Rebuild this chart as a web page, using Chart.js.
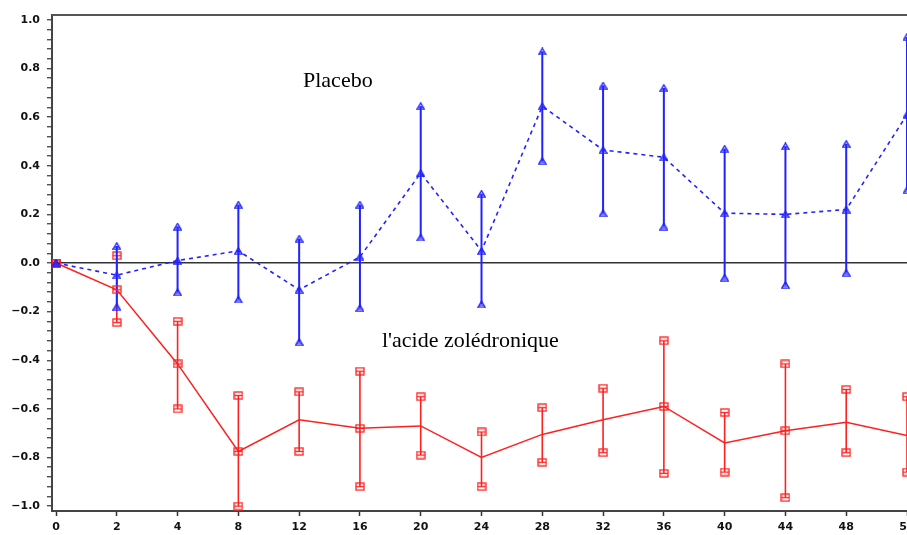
<!DOCTYPE html>
<html>
<head>
<meta charset="utf-8">
<script src="https://cdn.jsdelivr.net/npm/chart.js@4.4.0/dist/chart.umd.min.js"></script>
<style>
  html, body { margin: 0; padding: 0; background: #fff; overflow: hidden; }
  #wrap { width: 907px; height: 535px; position: relative; }
</style>
</head>
<body>
<div id="wrap"><canvas id="chart"></canvas></div>
<script>
var weeks = ["0", "2", "4", "8", "12", "16", "20", "24", "28", "32", "36", "40", "44", "48", "52"];

var placeboMean = [0, -0.05, 0.01, 0.05, -0.11, 0.025, 0.37, 0.05, 0.645, 0.465, 0.435, 0.205, 0.2, 0.22, 0.61];
var placeboHigh = [0, 0.07, 0.15, 0.24, 0.10, 0.24, 0.645, 0.285, 0.87, 0.73, 0.72, 0.47, 0.48, 0.49, 0.93];
var placeboLow = [0, -0.18, -0.12, -0.15, -0.325, -0.185, 0.105, -0.17, 0.42, 0.205, 0.15, -0.06, -0.09, -0.04, 0.30];

var zolMean = [0, -0.11, -0.415, -0.775, -0.645, -0.68, -0.67, -0.80, -0.705, -0.645, -0.59, -0.74, -0.69, -0.655, -0.71];
var zolHigh = [0, 0.03, -0.24, -0.545, -0.53, -0.445, -0.55, -0.695, -0.595, -0.515, -0.32, -0.615, -0.415, -0.52, -0.55];
var zolLow = [0, -0.245, -0.60, -1.0, -0.775, -0.92, -0.79, -0.92, -0.82, -0.78, -0.865, -0.86, -0.965, -0.78, -0.86];

// squares only show at some of the red means in the original
var zolMeanMarker = [1, 1, 1, 1, 0, 1, 0, 0, 0, 0, 1, 0, 1, 0, 0];

var BLUE = "#2222ff";
var RED = "#ff2020";

function triMarker(color) {
  var c = document.createElement("canvas");
  c.width = 9;
  c.height = 8;
  var g = c.getContext("2d");
  g.strokeStyle = color;
  g.lineWidth = 1.3;
  g.beginPath();
  g.moveTo(4.5, 0.8);
  g.lineTo(8.2, 7.2);
  g.lineTo(0.8, 7.2);
  g.closePath();
  g.stroke();
  g.beginPath();
  g.moveTo(2, 5);
  g.lineTo(7, 5);
  g.stroke();
  return c;
}

function squareMarker(color) {
  var c = document.createElement("canvas");
  c.width = 10;
  c.height = 9;
  var g = c.getContext("2d");
  g.strokeStyle = color;
  g.lineWidth = 1.3;
  g.strokeRect(1, 1, 8, 7);
  g.beginPath();
  g.moveTo(1, 4.5);
  g.lineTo(9, 4.5);
  g.stroke();
  return c;
}

var tri = triMarker(BLUE);
var sq = squareMarker(RED);

function meanPoints(arr) {
  return arr.map(function (v, i) {
    return { x: i, y: v };
  });
}

// one dataset per series: low -> high segments split by gaps
function errorPoints(lo, hi) {
  var pts = [];
  for (var i = 0; i < lo.length; i++) {
    pts.push({ x: i, y: lo[i] });
    pts.push({ x: i, y: hi[i] });
    pts.push({ x: i, y: null });
  }
  return pts;
}

function fmt(v) {
  var s = Math.abs(v) < 1e-9 ? "0.0" : v.toFixed(1);
  return s.replace("-", "\u2212");
}

var annotations = {
  id: "annotations",
  afterDraw: function (chart) {
    var ctx = chart.ctx;
    var a = chart.chartArea;
    ctx.save();
    ctx.strokeStyle = "#555";
    ctx.lineWidth = 2;
    ctx.beginPath();
    ctx.moveTo(a.left, a.top);
    ctx.lineTo(a.right, a.top);
    ctx.stroke();

    ctx.fillStyle = "#000";
    ctx.font = '22px "Liberation Serif"';
    ctx.textBaseline = "alphabetic";
    ctx.fillText("Placebo", 303, 87);
    ctx.fillText("l'acide zolédronique", 382, 347);
    ctx.restore();
  },
};

var chart = document.getElementById("chart");

var config = {
  type: "line",
  data: {
    datasets: [
      {
        label: "Placebo",
        data: meanPoints(placeboMean),
        borderColor: BLUE,
        borderWidth: 1.6,
        borderDash: [4, 4],
        pointStyle: tri,
        pointRadius: 4,
        tension: 0,
      },
      {
        label: "l'acide zolédronique",
        data: meanPoints(zolMean),
        borderColor: RED,
        borderWidth: 1.5,
        pointStyle: sq,
        pointRadius: zolMeanMarker.map(function (m) {
          return m ? 4 : 0;
        }),
        tension: 0,
      },
      {
        label: "Placebo IC",
        data: errorPoints(placeboLow, placeboHigh),
        borderColor: BLUE,
        borderWidth: 2,
        pointStyle: tri,
        pointRadius: 4,
        spanGaps: false,
      },
      {
        label: "zol IC",
        data: errorPoints(zolLow, zolHigh),
        borderColor: RED,
        borderWidth: 1.6,
        pointStyle: sq,
        pointRadius: 4,
        spanGaps: false,
      },
    ],
  },
  options: {
    animation: false,
    responsive: true,
    maintainAspectRatio: false,
    layout: { autoPadding: false, padding: { top: 15, left: 0, right: 0, bottom: 0 } },
    plugins: {
      legend: { display: false },
      tooltip: { enabled: false },
    },
    scales: {
      x: {
        type: "linear",
        min: -0.066,
        max: 14,
        afterBuildTicks: function (scale) {
          scale.ticks = weeks.map(function (w, i) {
            return { value: i };
          });
        },
        afterFit: function (scale) {
          scale.height = 24;
          scale.paddingLeft = 0;
          scale.paddingRight = 0;
        },
        ticks: {
          autoSkip: false,
          maxRotation: 0,
          padding: 5,
          color: "#111",
          font: { family: "DejaVu Sans", size: 11, weight: "bold" },
          callback: function (value) {
            return weeks[value];
          },
        },
        grid: {
          drawOnChartArea: false,
          tickLength: 5,
          tickColor: "#333",
          tickWidth: 1.5,
        },
        border: { color: "#444", width: 2 },
      },
      y: {
        type: "linear",
        min: -1.02,
        max: 1.02,
        afterBuildTicks: function (scale) {
          var t = [];
          for (var k = -25; k <= 25; k++) {
            t.push({ value: Math.round(k * 4) / 100 });
          }
          scale.ticks = t;
        },
        afterFit: function (scale) {
          scale.width = 52;
          scale.paddingTop = 0;
          scale.paddingBottom = 0;
        },
        ticks: {
          autoSkip: false,
          padding: 7,
          color: "#111",
          font: { family: "DejaVu Sans", size: 11, weight: "bold" },
          callback: function (value) {
            var r = value * 5;
            if (Math.abs(r - Math.round(r)) < 1e-6) {
              return fmt(value);
            }
            return "";
          },
        },
        grid: {
          color: function (ctx) {
            return ctx.tick && ctx.tick.value === 0 ? "#333" : "rgba(0,0,0,0)";
          },
          lineWidth: 1.5,
          tickLength: 5,
          tickColor: "#333",
          tickWidth: 1.2,
        },
        border: { color: "#444", width: 2 },
      },
    },
  },
  plugins: [annotations],
};

new Chart(chart, config);
</script>
</body>
</html>
